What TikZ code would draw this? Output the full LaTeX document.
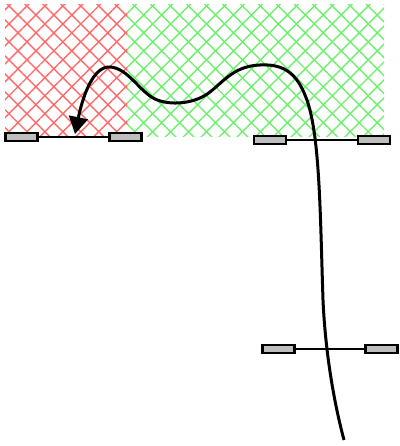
\documentclass[tikz,border=0pt]{standalone}
\definecolor{hatchred}{RGB}{255, 105, 105}
\definecolor{hatchgreen}{RGB}{110, 240, 110}
\definecolor{padgray}{RGB}{190, 190, 190}
\usepackage{tikz}
\usetikzlibrary{arrows.meta, positioning, patterns.meta}

\begin{document}
\begin{tikzpicture}[x=1pt, y=-1pt,
  pad/.style={draw=black, fill=padgray, line width=2.2pt, minimum width=32pt, minimum height=8pt, inner sep=0pt},
  bar/.style={line width=2pt},
  hatch/.style={pattern={Lines[angle=#1, distance=12.7pt, line width=1.4pt]}}]
  \useasboundingbox (0,0) rectangle (399,446);

  % hatched zones
  \fill[hatch=45, pattern color=hatchred] (5,5) rectangle (127,136);
  \fill[hatch=-45, pattern color=hatchred] (5,5) rectangle (127,136);
  \fill[hatch=45, pattern color=hatchgreen] (127,5) rectangle (384,137);
  \fill[hatch=-45, pattern color=hatchgreen] (127,5) rectangle (384,137);

  % gates
  \node[pad] (g1l) at (21.5,137) {};
  \node[pad] (g1r) at (125.5,137) {};
  \draw[bar] (g1l) -- (g1r);
  \node[pad] (g2l) at (270,140) {};
  \node[pad] (g2r) at (374,140) {};
  \draw[bar] (g2l) -- (g2r);
  \node[pad] (g3l) at (278.5,349) {};
  \node[pad] (g3r) at (381.5,349) {};
  \draw[bar] (g3l) -- (g3r);

  % path
  \draw[line width=3pt, -{Triangle[length=17pt, width=19pt]}]
    (344,440) .. controls (332,395) and (325,345) .. (323,300)
    .. controls (320,210) and (320,130) .. (305,95)
    .. controls (295,70) and (280,64) .. (260,65)
    .. controls (235,66) and (225,80) .. (210,92)
    .. controls (195,104) and (170,106) .. (155,99)
    .. controls (140,92) and (128,68) .. (110,67)
    .. controls (92,66) and (82,100) .. (75,134);
\end{tikzpicture}
\end{document}
